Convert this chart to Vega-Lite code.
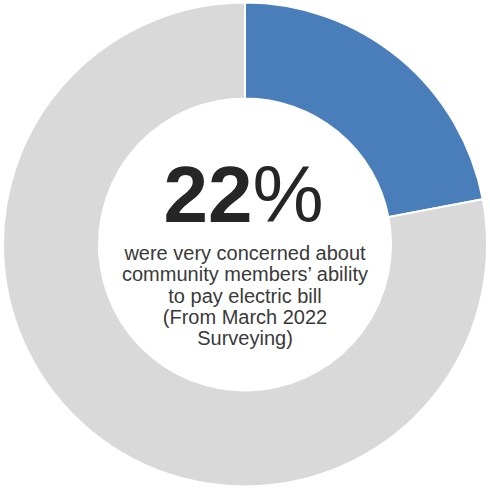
{
  "$schema": "https://vega.github.io/schema/vega-lite/v6.json",
  "width": 490,
  "height": 489,
  "autosize": {"type": "fit", "contains": "padding"},
  "padding": 0,
  "background": "white",
  "config": {"view": {"stroke": null}},
  "layer": [
    {
      "data": {"values": [
        {"category": "Very concerned", "value": 22, "rank": 1},
        {"category": "Other", "value": 78, "rank": 2}
      ]},
      "mark": {"type": "arc", "radius": 242, "radius2": 146, "stroke": "white", "strokeWidth": 2},
      "encoding": {
        "theta": {"field": "value", "type": "quantitative", "stack": true},
        "order": {"field": "rank", "type": "quantitative"},
        "color": {
          "field": "category", "type": "nominal",
          "scale": {"domain": ["Very concerned", "Other"], "range": ["#4A7EBB", "#D9D9D9"]},
          "legend": null
        }
      }
    },
    {
      "data": {"values": [{"label": "22"}]},
      "mark": {"type": "text", "font": "Liberation Sans", "fontWeight": "bold", "fontSize": 80, "color": "#262626", "align": "right", "baseline": "alphabetic", "dx": 7.5, "dy": -22.8},
      "encoding": {"text": {"field": "label"}}
    },
    {
      "data": {"values": [{"label": "%"}]},
      "mark": {"type": "text", "font": "Liberation Sans", "fontWeight": "normal", "fontSize": 80, "color": "#262626", "align": "left", "baseline": "alphabetic", "dx": 7.5, "dy": -22.8},
      "encoding": {"text": {"field": "label"}}
    },
    {
      "data": {"values": [{"label": "were very concerned about|community members’ ability|to pay electric bill|(From March 2022|Surveying)"}]},
      "mark": {"type": "text", "font": "Liberation Sans", "fontSize": 20, "color": "#3A3A3A", "align": "center", "baseline": "alphabetic", "lineBreak": "|", "lineHeight": 21.3, "dx": 0, "dy": 15.5},
      "encoding": {"text": {"field": "label"}}
    }
  ]
}
